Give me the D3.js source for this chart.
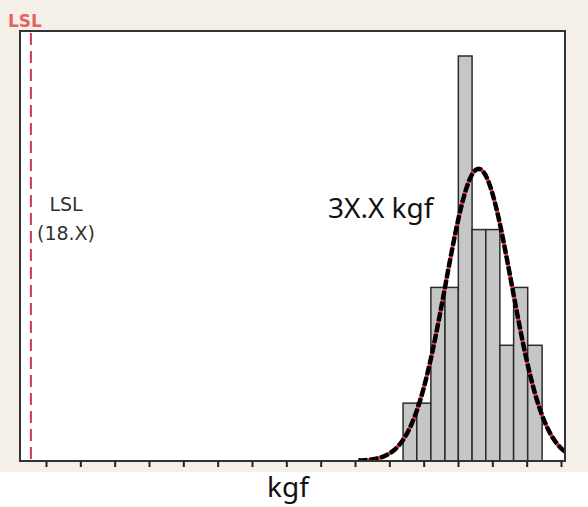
<!DOCTYPE html>
<html>
<head>
<meta charset="utf-8">
<script src="https://cdn.jsdelivr.net/npm/d3@7"></script>
<style>
  body { margin: 0; background: #fff; }
  svg { display: block; }
</style>
</head>
<body>
<script>
// histogram data
var binEdges = [29.40, 29.80, 30.21, 30.62, 31.01, 31.41, 31.81, 32.22, 32.62, 33.03, 33.45];
var binCounts = [1, 1, 3, 3, 7, 4, 4, 2, 3, 2];
var tickValues = [19, 20, 21, 22, 23, 24, 25, 26, 27, 28, 29, 30, 31, 32, 33, 34];
var lslValue = 18.56;
var fitMean = 31.6, fitSd = 0.96;   // fitted normal curve
var curveStart = 28.1;

var width = 588, height = 507;

var svg = d3.select("body").append("svg")
    .attr("width", width)
    .attr("height", height);

// beige window background, white below the axis
svg.append("rect").attr("x", 0).attr("y", 0).attr("width", width).attr("height", 472)
    .attr("fill", "#f4f0e7");

var plot = {left: 20, top: 31, right: 565, bottom: 461};

svg.append("rect")
    .attr("x", plot.left).attr("y", plot.top)
    .attr("width", plot.right - plot.left).attr("height", plot.bottom - plot.top)
    .attr("fill", "#fff");

var x = d3.scaleLinear().domain([19, 34]).range([46, 561]);
var y = d3.scaleLinear().domain([0, 7]).range([plot.bottom, 56]);

svg.append("clipPath").attr("id", "clip")
  .append("rect")
    .attr("x", plot.left).attr("y", plot.top)
    .attr("width", plot.right - plot.left).attr("height", plot.bottom - plot.top);

// bars
svg.selectAll("rect.bar")
    .data(binCounts)
    .enter().append("rect")
    .attr("class", "bar")
    .attr("x", function(d, i) { return x(binEdges[i]); })
    .attr("width", function(d, i) { return x(binEdges[i + 1]) - x(binEdges[i]); })
    .attr("y", function(d) { return y(d); })
    .attr("height", function(d) { return plot.bottom - y(d); })
    .attr("fill", "#c6c6c6")
    .attr("stroke", "#2b2b2b")
    .attr("stroke-width", 1.5);

// normal fit, scaled to counts
var binWidth = (binEdges[binEdges.length - 1] - binEdges[0]) / binCounts.length;
var total = d3.sum(binCounts);
var xs = d3.range(curveStart, x.invert(plot.right) + 0.05, 0.02);
var curve = xs.map(function(v) {
  var z = (v - fitMean) / fitSd;
  return [v, total * binWidth * Math.exp(-0.5 * z * z) / (fitSd * Math.sqrt(2 * Math.PI))];
});
var line = d3.line()
    .x(function(d) { return x(d[0]); })
    .y(function(d) { return y(d[1]); });

var cg = svg.append("g").attr("clip-path", "url(#clip)");
cg.append("path").datum(curve).attr("d", line)
    .attr("fill", "none").attr("stroke", "#e8283c").attr("stroke-width", 3.5);
cg.append("path").datum(curve).attr("d", line)
    .attr("fill", "none").attr("stroke", "#000").attr("stroke-width", 4.5)
    .attr("stroke-dasharray", "9,2");

// LSL line
svg.append("line")
    .attr("x1", x(lslValue)).attr("x2", x(lslValue))
    .attr("y1", plot.top + 2).attr("y2", plot.bottom)
    .attr("stroke", "#d4355a").attr("stroke-width", 2)
    .attr("stroke-dasharray", "12,6");

// frame
svg.append("rect")
    .attr("x", plot.left).attr("y", plot.top)
    .attr("width", plot.right - plot.left).attr("height", plot.bottom - plot.top)
    .attr("fill", "none").attr("stroke", "#333").attr("stroke-width", 2);

// x axis ticks
var axis = d3.axisBottom(x).tickValues(tickValues).tickSize(6).tickFormat("");
svg.append("g")
    .attr("transform", "translate(0," + plot.bottom + ")")
    .call(axis)
    .call(function(g) { g.select(".domain").remove(); })
    .selectAll("line").attr("stroke", "#222").attr("stroke-width", 2);

// labels
svg.append("text").text("LSL")
    .attr("x", 8).attr("y", 27)
    .attr("font-family", "DejaVu Sans").attr("font-size", 17).attr("font-weight", "bold")
    .attr("fill", "#e46464");

svg.append("text").text("LSL")
    .attr("x", 66).attr("y", 211).attr("text-anchor", "middle")
    .attr("font-family", "DejaVu Sans").attr("font-size", 19).attr("fill", "#333");
svg.append("text").text("(18.X)")
    .attr("x", 66).attr("y", 240).attr("text-anchor", "middle")
    .attr("font-family", "DejaVu Sans").attr("font-size", 19).attr("fill", "#333");

svg.append("text").text("3X.X kgf")
    .attr("x", 328).attr("y", 218)
    .attr("font-family", "Noto Sans").attr("font-size", 28).attr("fill", "#111");

svg.append("text").text("kgf")
    .attr("x", 288).attr("y", 497).attr("text-anchor", "middle")
    .attr("font-family", "Noto Sans").attr("font-size", 28).attr("fill", "#111");
</script>
</body>
</html>
